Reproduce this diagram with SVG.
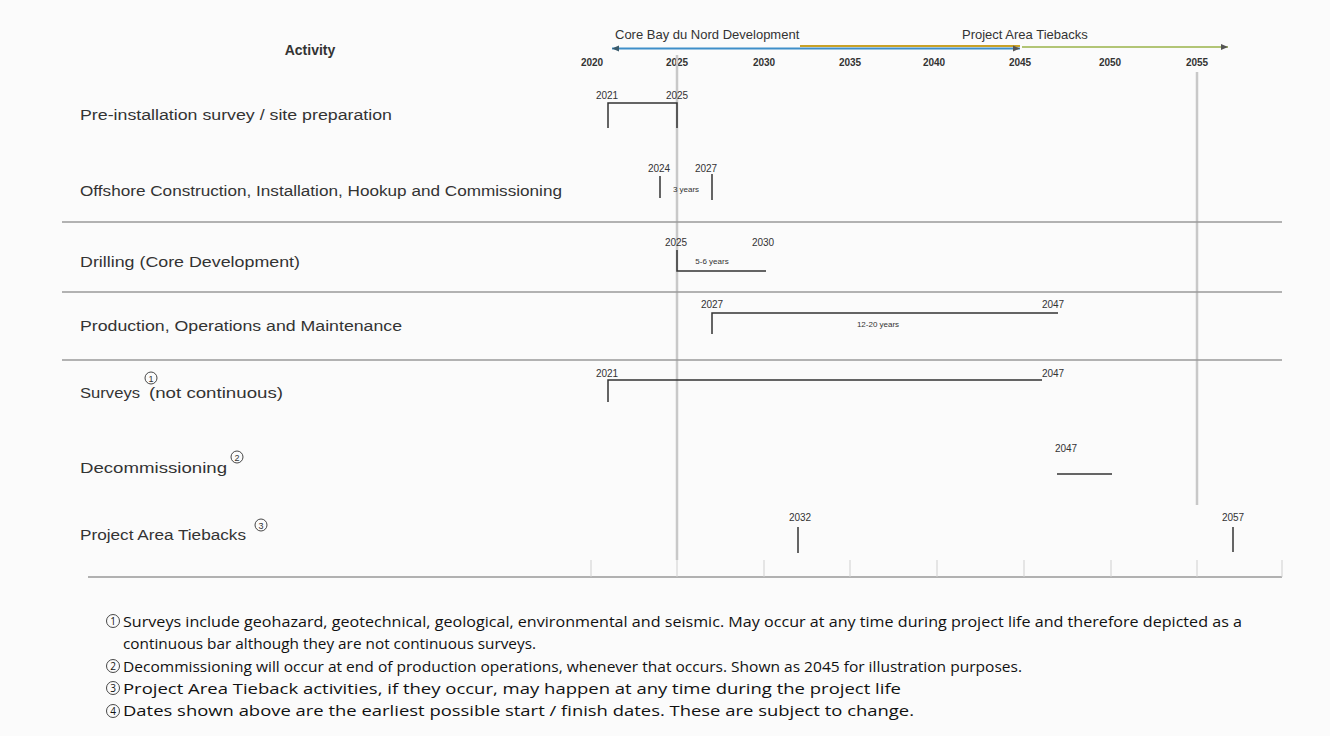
<svg xmlns="http://www.w3.org/2000/svg" width="1330" height="736" viewBox="0 0 1330 736">
<style>
.t{font-family:"Liberation Sans",Arial,sans-serif;fill:#333}
.act{font-size:14px}
.yr{font-size:10px;font-weight:bold;text-anchor:middle}
.lbl{font-size:10px;text-anchor:middle}
.hd{font-size:13px}
.fn{font-family:"Open Sans","Liberation Sans",sans-serif;font-size:15px;fill:#111}
.bar{stroke:#333;stroke-width:1.5;fill:none}
.sep{stroke:#9a9a9a;stroke-width:1.5}
.grid{stroke:#cfcfcf;stroke-width:1}
.vg{stroke:#c8c8c8;stroke-width:2.5}
.circ{fill:none;stroke:#333;stroke-width:0.9}
</style>
<defs>
<marker id="al" markerWidth="8" markerHeight="8" refX="1" refY="4" orient="auto" markerUnits="userSpaceOnUse"><path d="M8,1 L1,4 L8,7 Z" fill="#3a5a6a"/></marker>
<marker id="ar" markerWidth="8" markerHeight="8" refX="7" refY="4" orient="auto" markerUnits="userSpaceOnUse"><path d="M0,1 L7,4 L0,7 Z" fill="#555"/></marker>
</defs>
<rect width="1330" height="736" fill="#fbfbfb"/>

<g id="axis">
<text class="t" x="310" y="55" font-size="14" font-weight="bold" text-anchor="middle">Activity</text>
<text class="t yr" x="592" y="66">2020</text>
<text class="t yr" x="677" y="66">2025</text>
<text class="t yr" x="764" y="66">2030</text>
<text class="t yr" x="850" y="66">2035</text>
<text class="t yr" x="934" y="66">2040</text>
<text class="t yr" x="1020" y="66">2045</text>
<text class="t yr" x="1110" y="66">2050</text>
<text class="t yr" x="1197" y="66">2055</text>
<line class="vg" x1="677" y1="55" x2="677" y2="560"/>
<line class="vg" x1="1197" y1="72" x2="1197" y2="505"/>
<line class="sep" x1="62" y1="222" x2="1282" y2="222"/>
<line class="sep" x1="62" y1="292" x2="1282" y2="292"/>
<line class="sep" x1="62" y1="360" x2="1282" y2="360"/>
<line x1="88" y1="577" x2="1282" y2="577" stroke="#999" stroke-width="1.5"/>
<g class="grid">
<line x1="591" y1="560" x2="591" y2="577"/><line x1="677" y1="560" x2="677" y2="577"/>
<line x1="764" y1="560" x2="764" y2="577"/><line x1="850" y1="560" x2="850" y2="577"/>
<line x1="937" y1="560" x2="937" y2="577"/><line x1="1024" y1="560" x2="1024" y2="577"/>
<line x1="1111" y1="560" x2="1111" y2="577"/><line x1="1197" y1="560" x2="1197" y2="577"/>
<line x1="1282" y1="560" x2="1282" y2="577"/>
</g>
</g>

<g id="phases">
<text class="t hd" x="615" y="39">Core Bay du Nord Development</text>
<text class="t hd" x="962" y="39">Project Area Tiebacks</text>
<line x1="800" y1="46" x2="1020" y2="46" stroke="#c9a227" stroke-width="1.8"/>
<line x1="612" y1="48.5" x2="1020" y2="48.5" stroke="#3f8fc9" stroke-width="2" marker-start="url(#al)" marker-end="url(#ar)"/>
<line x1="1022" y1="47" x2="1228" y2="47" stroke="#9ab34a" stroke-width="1.5" marker-end="url(#ar)"/>
</g>

<g id="row1">
<text class="t act" x="80" y="120" textLength="312" lengthAdjust="spacingAndGlyphs">Pre-installation survey / site preparation</text>
<path class="bar" d="M608,128 V103 H677 V128"/>
<text class="t lbl" x="607" y="99">2021</text>
<text class="t lbl" x="677" y="99">2025</text>
</g>

<g id="row2">
<text class="t act" x="80" y="196" textLength="482" lengthAdjust="spacingAndGlyphs">Offshore Construction, Installation, Hookup and Commissioning</text>
<line class="bar" x1="660" y1="176" x2="660" y2="198"/>
<line class="bar" x1="712" y1="174" x2="712" y2="200"/>
<text class="t lbl" x="659" y="172">2024</text>
<text class="t lbl" x="706" y="172">2027</text>
<text class="t" x="686" y="192" font-size="8" text-anchor="middle">3 years</text>
</g>

<g id="row3">
<text class="t act" x="80" y="267" textLength="220" lengthAdjust="spacingAndGlyphs">Drilling (Core Development)</text>
<path class="bar" d="M677,250 V271 H766"/>
<text class="t lbl" x="676" y="246">2025</text>
<text class="t lbl" x="763" y="246">2030</text>
<text class="t" x="712" y="264" font-size="8" text-anchor="middle">5-6 years</text>
</g>

<g id="row4">
<text class="t act" x="80" y="331" textLength="322" lengthAdjust="spacingAndGlyphs">Production, Operations and Maintenance</text>
<path class="bar" d="M712,334 V313 H1058"/>
<text class="t lbl" x="712" y="308">2027</text>
<text class="t lbl" x="1053" y="308">2047</text>
<text class="t" x="878" y="327" font-size="8" text-anchor="middle">12-20 years</text>
</g>

<g id="row5">
<text class="t act" x="80" y="398" textLength="60" lengthAdjust="spacingAndGlyphs">Surveys</text>
<circle class="circ" cx="151" cy="378" r="6"/>
<text class="t" x="151" y="381.5" font-size="9" text-anchor="middle">1</text>
<text class="t act" x="149" y="398" textLength="134" lengthAdjust="spacingAndGlyphs">(not continuous)</text>
<path class="bar" d="M608,402 V380 H1042"/>
<text class="t lbl" x="607" y="377">2021</text>
<text class="t lbl" x="1053" y="377">2047</text>
</g>

<g id="row6">
<text class="t act" x="80" y="473" textLength="147" lengthAdjust="spacingAndGlyphs">Decommissioning</text>
<circle class="circ" cx="237" cy="457" r="6"/>
<text class="t" x="237" y="460.5" font-size="9" text-anchor="middle">2</text>
<text class="t lbl" x="1066" y="452">2047</text>
<line class="bar" x1="1057" y1="474" x2="1112" y2="474"/>
</g>

<g id="row7">
<text class="t act" x="80" y="540" textLength="166" lengthAdjust="spacingAndGlyphs">Project Area Tiebacks</text>
<circle class="circ" cx="261" cy="525" r="6"/>
<text class="t" x="261" y="528.5" font-size="9" text-anchor="middle">3</text>
<line class="bar" x1="798" y1="527" x2="798" y2="553"/>
<text class="t lbl" x="800" y="521">2032</text>
<line class="bar" x1="1233" y1="527" x2="1233" y2="552"/>
<text class="t lbl" x="1233" y="521">2057</text>
</g>

<g id="footnotes">
<g class="circ"><circle cx="113" cy="621" r="6.5"/><circle cx="113" cy="666" r="6.5"/><circle cx="113" cy="688" r="6.5"/><circle cx="113" cy="711" r="6.5"/></g>
<g font-family="Open Sans,Liberation Sans,sans-serif" font-size="10" text-anchor="middle" fill="#111">
<text x="113" y="624.5">1</text><text x="113" y="669.5">2</text><text x="113" y="691.5">3</text><text x="113" y="714.5">4</text>
</g>
<text class="fn" x="123" y="627" textLength="1119" lengthAdjust="spacingAndGlyphs">Surveys include geohazard, geotechnical, geological, environmental and seismic.  May occur at any time during project life and therefore depicted as a</text>
<text class="fn" x="123" y="649" textLength="413" lengthAdjust="spacingAndGlyphs">continuous bar although they are not continuous surveys.</text>
<text class="fn" x="123" y="672" textLength="899" lengthAdjust="spacingAndGlyphs">Decommissioning will occur at end of production operations, whenever that occurs.  Shown as 2045 for illustration purposes.</text>
<text class="fn" x="123" y="694" textLength="778" lengthAdjust="spacingAndGlyphs">Project Area Tieback activities, if they occur, may happen at any time during the project life</text>
<text class="fn" x="123" y="716" textLength="791" lengthAdjust="spacingAndGlyphs">Dates shown above are the earliest possible start / finish dates. These are subject to change.</text>
</g>
</svg>
